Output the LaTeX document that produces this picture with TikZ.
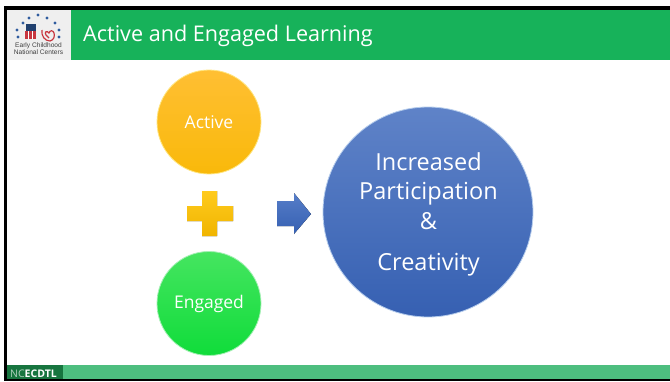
\documentclass[tikz,border=0pt]{standalone}
\usepackage{fontspec}
\setmainfont{Open Sans}
\newfontfamily\logofont{Liberation Sans}
\usetikzlibrary{calc}
\definecolor{hdrgreen}{HTML}{17B25A}
\definecolor{ftgreen}{HTML}{4DBE7F}
\definecolor{ftdark}{HTML}{17753F}
\definecolor{logobg}{HTML}{EFEFEF}
\definecolor{dotblue}{HTML}{2F5C9E}
\definecolor{logored}{HTML}{C8363F}
\definecolor{acttop}{HTML}{FFBF33}
\definecolor{actmid}{HTML}{FFC000}
\definecolor{actbot}{HTML}{F9B90A}
\definecolor{actrim}{HTML}{FFE680}
\definecolor{engtop}{HTML}{45E560}
\definecolor{engmid}{HTML}{1EE04A}
\definecolor{engbot}{HTML}{10DC3A}
\definecolor{engrim}{HTML}{A5F0B5}
\definecolor{bigtop}{HTML}{5F83C8}
\definecolor{bigmid}{HTML}{4070C8}
\definecolor{bigbot}{HTML}{3660B2}
\definecolor{bigrim}{HTML}{B5CCEC}
\definecolor{plustop}{HTML}{FFCB1E}
\definecolor{plusbot}{HTML}{F0B400}
\tikzset{
  x=1pt,y=-1pt,
  ball/.style={circle,minimum size=#1,inner sep=0pt,line width=.8pt},
  balllabel/.style={text=white,anchor=base,inner sep=0pt,font=\fontsize{17.5}{20}\selectfont},
  biglabel/.style={text=white,anchor=base,font=\fontsize{23.5}{28}\selectfont,inner sep=0pt},
  logodot/.style={circle,fill=dotblue,inner sep=0pt,minimum size=3.2pt},
}
\begin{document}
\begin{tikzpicture}[line join=miter]
\useasboundingbox (0,0) rectangle (670,381);
\fill[white] (0,0) rectangle (670,381);
% frame
\fill[black] (4,6) rectangle (670,10);
\fill[black] (4,6) rectangle (7,381);
\fill[black] (4,379) rectangle (670,381);
% header
\fill[logobg] (7,10) rectangle (71,60);
\fill[hdrgreen] (71,10) rectangle (670,60);
\node[anchor=base west,text=white,inner sep=0pt,font=\fontsize{21.6}{26}\selectfont] (title) at (83,41) {Active and Engaged Learning};
% logo
\foreach \p in {(38,15),(29,18),(47,18),(23,23),(55,23),(17,30),(59,30),(18,37),(59,37)}
  \node[logodot] at \p {};
\fill[dotblue!70!black] (26,24) rectangle (36,33);
\fill[logored] (25,31) rectangle (36,39);
\draw[white,line width=.6pt] (28.5,31) -- (28.5,39) (32,31) -- (32,39);
\draw[logored,line width=1.2pt] (42,30) .. controls (41,36) and (45,41) .. (50,41) .. controls (54,40) and (55,36) .. (54,33) .. controls (53,30) and (50,30) .. (49,33) .. controls (47,30) and (44,32) .. (46,35) -- (49,38);
\node[text=black!75,font=\logofont\fontsize{6.6}{7}\selectfont,align=center,inner sep=0pt] (logotext) at (38.5,49) {Early Childhood\\National Centers};
% footer
\fill[ftgreen] (63,365) rectangle (670,379);
\fill[ftdark] (7,365) rectangle (63,379);
\node[anchor=base west,inner sep=0pt,text=white,font=\fontsize{10.5}{11}\selectfont] (brand) at (10,377) {\textcolor{white!65!ftdark}{NC}\textbf{ECDTL}};
% circles
\node[ball=104pt,draw=actrim,top color=acttop,middle color=actmid,bottom color=actbot] (active) at (209,122) {};
\node[balllabel] (lactive) at (209,128) {Active};
\node[ball=104pt,draw=engrim,top color=engtop,middle color=engmid,bottom color=engbot] (engaged) at (209,303.5) {};
\node[balllabel] (lengaged) at (209,308.5) {Engaged};
\node[ball=210pt,draw=bigrim,top color=bigtop,middle color=bigmid,bottom color=bigbot] (big) at (428,212) {};
\node[biglabel] (l1) at (428.5,170) {Increased};
\node[biglabel] (l2) at (428.5,199.5) {Participation};
\node[biglabel] (l3) at (428.5,229) {\&};
\node[biglabel] (l4) at (428.5,270.7) {Creativity};
% plus
\fill[top color=plustop,bottom color=plusbot]
  (202,191) -- (217,191) -- (217,206) -- (233,206) -- (233,221) -- (217,221) -- (217,236) -- (202,236) -- (202,221) -- (187,221) -- (187,206) -- (202,206) -- cycle;
% arrow
\fill[top color=bigtop!70!bigmid,bottom color=bigbot]
  (277,201) -- (294,201) -- (294,193) -- (311,214) -- (294,234) -- (294,226) -- (277,226) -- cycle;
\end{tikzpicture}
\end{document}
